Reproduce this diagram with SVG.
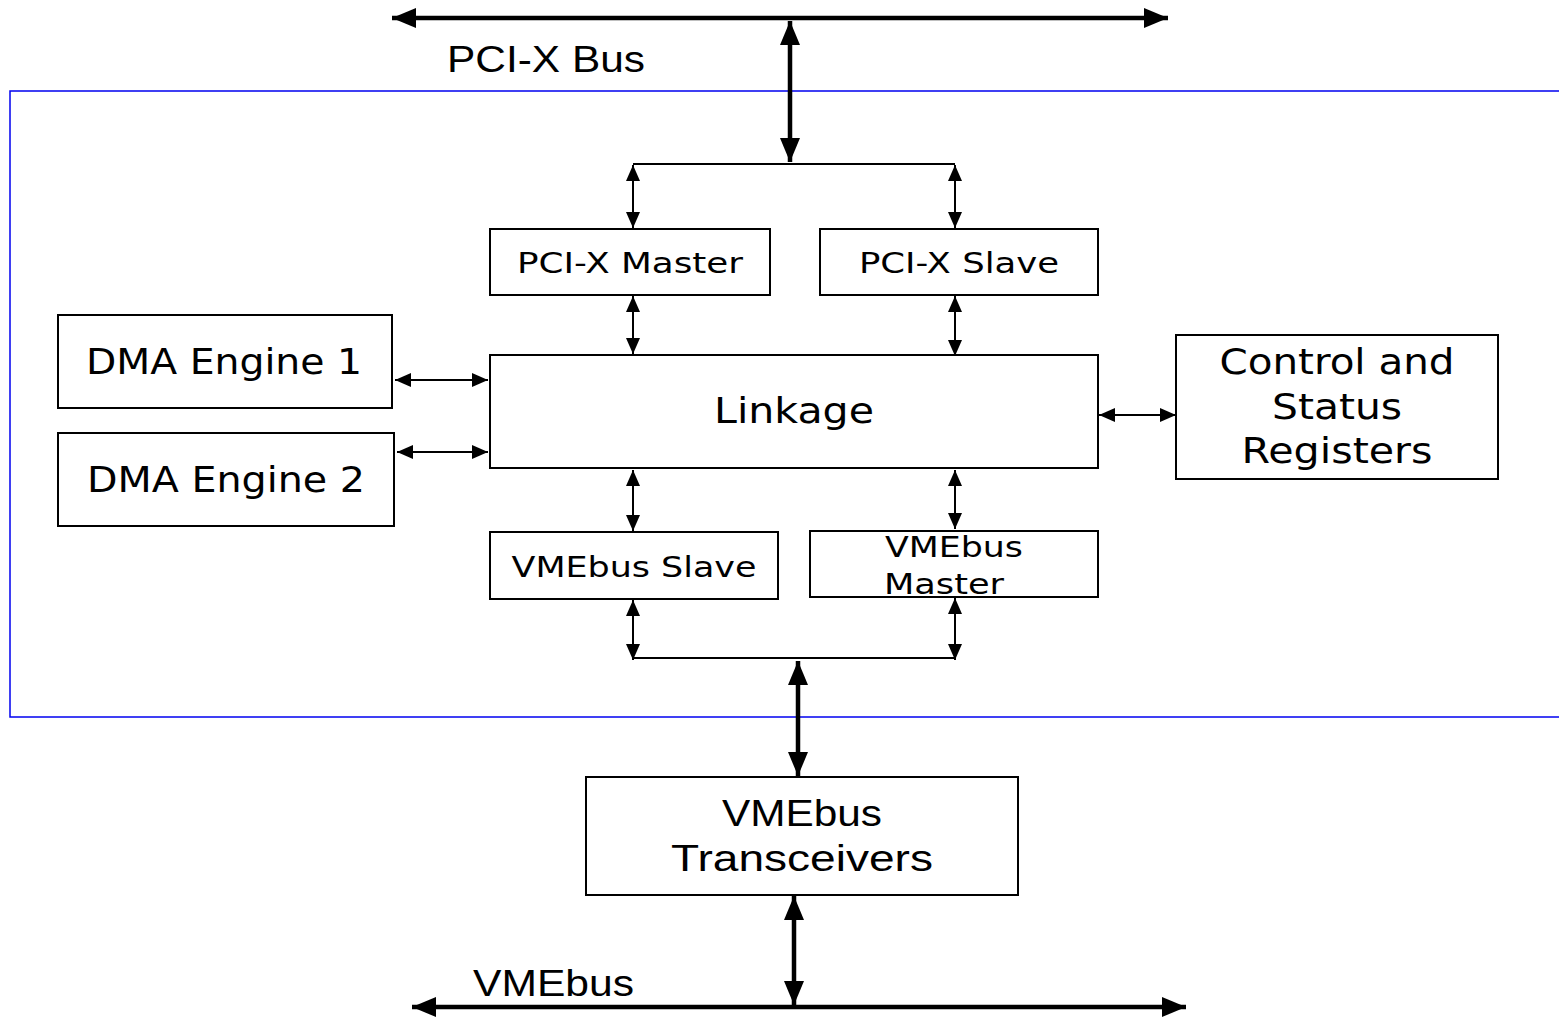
<svg xmlns="http://www.w3.org/2000/svg" width="1559" height="1017" viewBox="0 0 1559 1017">
<style>
.box{fill:#fff;stroke:#000;stroke-width:2}
.w{font-family:"DejaVu Sans",Verdana,sans-serif;fill:#000;text-anchor:middle}
.n{font-family:"Liberation Sans",Arial,sans-serif;fill:#000}
.thin{stroke:#000;stroke-width:2;fill:none}
.ta{stroke:#000;stroke-width:2;fill:none;marker-start:url(#ha);marker-end:url(#ha)}
.tk{stroke:#000;stroke-width:4.5;fill:none;marker-start:url(#hb);marker-end:url(#hb)}
</style>
<defs>
<marker id="ha" markerUnits="userSpaceOnUse" markerWidth="18" markerHeight="16" refX="16" refY="7" orient="auto-start-reverse" viewBox="0 0 18 16"><path d="M0,0 L16,7 L0,14 z" fill="#000"/></marker>
<marker id="hb" markerUnits="userSpaceOnUse" markerWidth="26" markerHeight="20" refX="24" refY="10" orient="auto-start-reverse" viewBox="0 0 26 20"><path d="M0,0 L24,10 L0,20 z" fill="#000"/></marker>
</defs>
<rect width="1559" height="1017" fill="#fff"/>
<rect x="10" y="91" width="1560" height="626" fill="none" stroke="#0000f0" stroke-width="1.5"/>
<g id="connectors">
<line class="tk" x1="392" y1="18" x2="1168" y2="18"/>
<line class="tk" x1="790" y1="21" x2="790" y2="162"/>
<line class="thin" x1="633" y1="164" x2="955" y2="164"/>
<line class="ta" x1="633" y1="165" x2="633" y2="228"/>
<line class="ta" x1="955" y1="165" x2="955" y2="228"/>
<line class="ta" x1="633" y1="296" x2="633" y2="354"/>
<line class="ta" x1="955" y1="296" x2="955" y2="356"/>
<line class="ta" x1="395" y1="380" x2="488" y2="380"/>
<line class="ta" x1="397" y1="452" x2="488" y2="452"/>
<line class="ta" x1="1099" y1="415" x2="1176" y2="415"/>
<line class="ta" x1="633" y1="470" x2="633" y2="531"/>
<line class="ta" x1="955" y1="470" x2="955" y2="529"/>
<line class="ta" x1="633" y1="600" x2="633" y2="660"/>
<line class="ta" x1="955" y1="598" x2="955" y2="660"/>
<line class="thin" x1="633" y1="658" x2="955" y2="658"/>
<line class="tk" x1="798" y1="661" x2="798" y2="776"/>
<line class="tk" x1="794" y1="896" x2="794" y2="1005"/>
<line class="tk" stroke-width="6" x1="412" y1="1007" x2="1186" y2="1007"/>
</g>
<text class="n" x="447" y="72" font-size="37" textLength="198" lengthAdjust="spacingAndGlyphs">PCI-X Bus</text>
<text class="n" x="473" y="996" font-size="36" textLength="161" lengthAdjust="spacingAndGlyphs">VMEbus</text>
<g id="pcix-master"><rect class="box" x="490" y="229" width="280" height="66"/><text class="w" x="630" y="273" font-size="29" textLength="226" lengthAdjust="spacingAndGlyphs">PCI-X Master</text></g>
<g id="pcix-slave"><rect class="box" x="820" y="229" width="278" height="66"/><text class="w" x="959" y="273" font-size="29" textLength="200" lengthAdjust="spacingAndGlyphs">PCI-X Slave</text></g>
<g id="linkage"><rect class="box" x="490" y="355" width="608" height="113"/><text class="w" x="794" y="423" font-size="35" textLength="160" lengthAdjust="spacingAndGlyphs">Linkage</text></g>
<g id="dma1"><rect class="box" x="58" y="315" width="334" height="93"/><text class="w" x="224" y="374" font-size="35" textLength="276" lengthAdjust="spacingAndGlyphs">DMA Engine 1</text></g>
<g id="dma2"><rect class="box" x="58" y="433" width="336" height="93"/><text class="w" x="226" y="492" font-size="35" textLength="278" lengthAdjust="spacingAndGlyphs">DMA Engine 2</text></g>
<g id="csr"><rect class="box" x="1176" y="335" width="322" height="144"/>
<text class="w" x="1337" y="374" font-size="35" textLength="235" lengthAdjust="spacingAndGlyphs">Control and</text>
<text class="w" x="1337" y="419" font-size="35" textLength="130" lengthAdjust="spacingAndGlyphs">Status</text>
<text class="w" x="1337" y="463" font-size="35" textLength="191" lengthAdjust="spacingAndGlyphs">Registers</text></g>
<g id="vme-slave"><rect class="box" x="490" y="532" width="288" height="67"/><text class="w" x="634" y="577" font-size="29" textLength="245" lengthAdjust="spacingAndGlyphs">VMEbus Slave</text></g>
<g id="vme-master"><rect class="box" x="810" y="531" width="288" height="66"/>
<text class="w" x="954" y="557" font-size="29" textLength="138" lengthAdjust="spacingAndGlyphs">VMEbus</text>
<text class="w" x="944" y="594" font-size="29" textLength="120" lengthAdjust="spacingAndGlyphs">Master</text></g>
<g id="transceivers"><rect class="box" x="586" y="777" width="432" height="118"/>
<text class="n" x="802" y="826" font-size="37" text-anchor="middle" textLength="160" lengthAdjust="spacingAndGlyphs">VMEbus</text>
<text class="n" x="802" y="871" font-size="37" text-anchor="middle" textLength="262" lengthAdjust="spacingAndGlyphs">Transceivers</text></g>
</svg>
